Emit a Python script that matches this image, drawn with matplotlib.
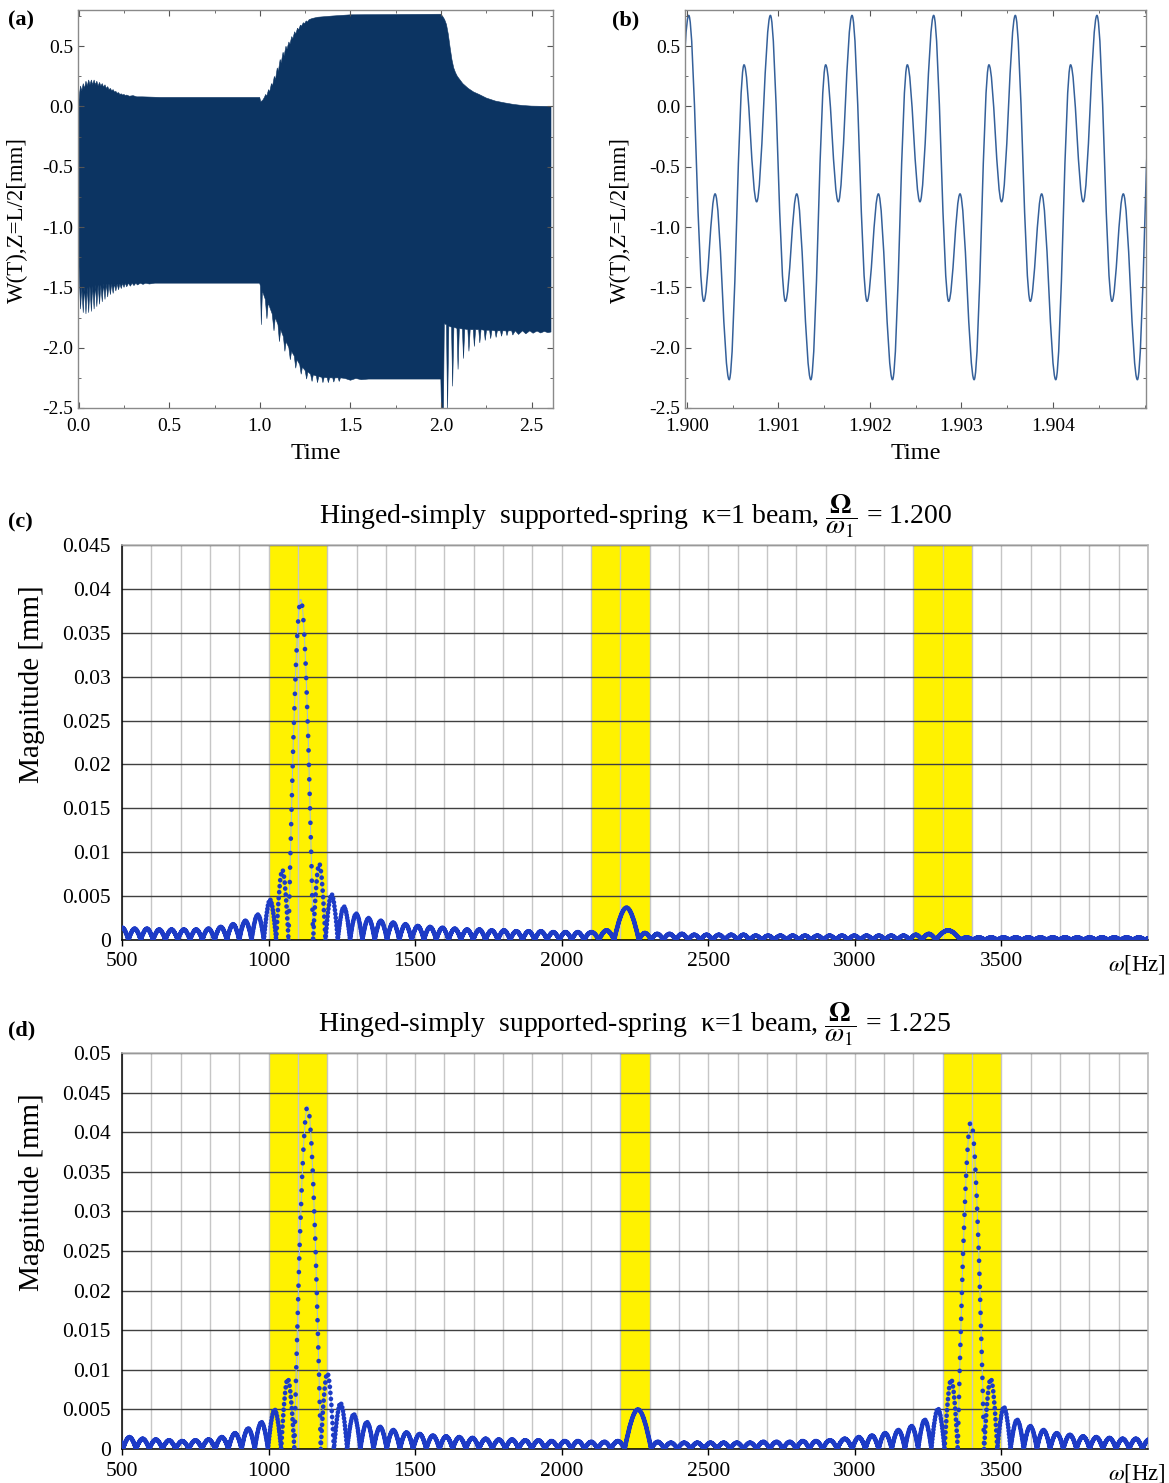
import numpy as np
import matplotlib
matplotlib.use("Agg")
import matplotlib.pyplot as plt
from matplotlib.path import Path
from matplotlib.patches import PathPatch
from matplotlib.ticker import MultipleLocator, FuncFormatter, FormatStrFormatter

plt.rcParams["font.family"] = ["Liberation Serif", "DejaVu Serif"]
plt.rcParams["mathtext.fontset"] = "stix"
plt.rcParams["axes.unicode_minus"] = False

DPI = 100

# ---------------------------------------------------------------------------
# (a) envelope of the response W(T) at Z=L/2 (time, mm)
# ---------------------------------------------------------------------------
A_UPPER = [
    (0.000, 0.03), (0.004, 0.10), (0.010, 0.17), (0.017, 0.13), (0.025, 0.19), (0.032, 0.15),
    (0.040, 0.21), (0.047, 0.17), (0.055, 0.22), (0.062, 0.18), (0.070, 0.22), (0.077, 0.18),
    (0.085, 0.22), (0.092, 0.18), (0.100, 0.21), (0.107, 0.17), (0.115, 0.20), (0.122, 0.17),
    (0.130, 0.19), (0.137, 0.16), (0.145, 0.18), (0.152, 0.15), (0.160, 0.165), (0.167, 0.14),
    (0.175, 0.15), (0.182, 0.13), (0.190, 0.14), (0.197, 0.12), (0.205, 0.125), (0.212, 0.11),
    (0.220, 0.115), (0.227, 0.10), (0.235, 0.105), (0.242, 0.095), (0.250, 0.10), (0.257, 0.09),
    (0.265, 0.095), (0.280, 0.085), (0.300, 0.09), (0.320, 0.08), (0.350, 0.08), (0.450, 0.075),
    (0.999, 0.075), (1.005, 0.04), (1.015, 0.05), (1.025, 0.075), (1.032, 0.10), (1.038, 0.085),
    (1.048, 0.14), (1.054, 0.12), (1.064, 0.19), (1.070, 0.17), (1.080, 0.25), (1.086, 0.22),
    (1.096, 0.32), (1.102, 0.29), (1.112, 0.39), (1.118, 0.36), (1.128, 0.45), (1.134, 0.42),
    (1.144, 0.50), (1.150, 0.475), (1.160, 0.535), (1.166, 0.515), (1.176, 0.58), (1.182, 0.56),
    (1.192, 0.62), (1.198, 0.60), (1.208, 0.65), (1.214, 0.635), (1.224, 0.675), (1.230, 0.665),
    (1.240, 0.695), (1.246, 0.685), (1.256, 0.71), (1.262, 0.70), (1.272, 0.72), (1.290, 0.73),
    (1.320, 0.74), (1.400, 0.75), (1.500, 0.76), (2.000, 0.765), (2.010, 0.745), (2.020, 0.72),
    (2.030, 0.68), (2.040, 0.60), (2.050, 0.49), (2.060, 0.39), (2.070, 0.32), (2.080, 0.28),
    (2.090, 0.25), (2.120, 0.19), (2.150, 0.15), (2.180, 0.12), (2.210, 0.10), (2.250, 0.07),
    (2.300, 0.045), (2.350, 0.03), (2.400, 0.017), (2.450, 0.008), (2.500, 0.003), (2.607, 0.0),
]
A_LOWER = [
    (0.000, -1.25), (0.004, -1.45), (0.010, -1.68), (0.017, -1.50), (0.025, -1.71), (0.032, -1.50),
    (0.040, -1.72), (0.047, -1.50), (0.055, -1.71), (0.062, -1.49), (0.070, -1.70), (0.077, -1.49),
    (0.085, -1.68), (0.092, -1.48), (0.100, -1.66), (0.107, -1.48), (0.115, -1.64), (0.122, -1.48),
    (0.130, -1.62), (0.137, -1.47), (0.145, -1.60), (0.152, -1.47), (0.160, -1.58), (0.167, -1.47),
    (0.175, -1.56), (0.182, -1.47), (0.190, -1.55), (0.197, -1.47), (0.205, -1.53), (0.212, -1.47),
    (0.220, -1.52), (0.227, -1.47), (0.235, -1.51), (0.242, -1.465), (0.250, -1.50), (0.257, -1.465),
    (0.265, -1.495), (0.275, -1.465), (0.285, -1.49), (0.295, -1.465), (0.305, -1.485), (0.315, -1.465),
    (0.325, -1.48), (0.340, -1.465), (0.355, -1.475), (0.370, -1.465), (0.390, -1.472), (0.420, -1.465),
    (0.999, -1.465),
    (1.003, -1.49), (1.008, -1.81), (1.014, -1.53), (1.030, -1.60), (1.039, -1.76), (1.046, -1.63),
    (1.068, -1.72), (1.078, -1.86), (1.085, -1.75), (1.100, -1.81), (1.108, -1.95), (1.115, -1.85),
    (1.130, -1.91), (1.138, -2.03), (1.145, -1.95), (1.160, -2.00), (1.168, -2.10), (1.175, -2.03),
    (1.190, -2.07), (1.198, -2.17), (1.205, -2.10), (1.220, -2.14), (1.228, -2.22), (1.235, -2.16),
    (1.250, -2.19), (1.258, -2.26), (1.265, -2.20), (1.280, -2.22), (1.288, -2.28), (1.295, -2.225),
    (1.312, -2.235), (1.318, -2.29), (1.325, -2.24), (1.342, -2.245), (1.348, -2.29), (1.355, -2.245),
    (1.372, -2.25), (1.378, -2.29), (1.385, -2.25), (1.402, -2.25), (1.408, -2.285), (1.415, -2.25),
    (1.432, -2.25), (1.438, -2.28), (1.445, -2.25), (1.470, -2.255), (1.500, -2.27), (1.530, -2.255),
    (1.560, -2.265), (1.600, -2.26), (1.999, -2.26),
    (2.003, -2.56), (2.013, -2.56), (2.018, -1.80), (2.030, -1.81), (2.036, -2.52), (2.043, -1.82),
    (2.058, -1.83), (2.064, -2.32), (2.071, -1.83), (2.088, -1.84), (2.094, -2.18), (2.101, -1.84),
    (2.118, -1.845), (2.124, -2.09), (2.131, -1.845), (2.148, -1.85), (2.154, -2.03), (2.161, -1.85),
    (2.178, -1.85), (2.184, -1.99), (2.191, -1.85), (2.208, -1.85), (2.214, -1.96), (2.221, -1.85),
    (2.238, -1.855), (2.244, -1.94), (2.251, -1.855), (2.268, -1.855), (2.274, -1.925), (2.281, -1.855),
    (2.298, -1.86), (2.304, -1.915), (2.311, -1.86), (2.328, -1.86), (2.334, -1.905), (2.341, -1.86),
    (2.358, -1.86), (2.364, -1.90), (2.371, -1.86), (2.390, -1.86), (2.396, -1.895), (2.410, -1.86),
    (2.428, -1.89), (2.450, -1.86), (2.468, -1.885), (2.490, -1.86), (2.508, -1.88), (2.530, -1.862),
    (2.550, -1.878), (2.570, -1.865), (2.590, -1.875), (2.607, -1.87),
]

# ---------------------------------------------------------------------------
# (b) zoomed window: successive extrema of W(T)
# ---------------------------------------------------------------------------
B_TIME = [
    1.899870,
    1.900020, 1.900184, 1.900308, 1.900462, 1.900624, 1.900762,
    1.900912, 1.901076, 1.901200, 1.901354, 1.901516, 1.901654,
    1.901804, 1.901968, 1.902092, 1.902246, 1.902408, 1.902546,
    1.902696, 1.902860, 1.902984, 1.903138, 1.903300, 1.903438,
    1.903588, 1.903752, 1.903876, 1.904030, 1.904192, 1.904330,
    1.904480, 1.904644, 1.904768, 1.904922, 1.905084, 1.905222,
]
B_W = [
    -0.79,
    0.755, -1.615, -0.725, -2.265, 0.345, -0.79,
    0.755, -1.615, -0.725, -2.265, 0.345, -0.79,
    0.755, -1.615, -0.725, -2.265, 0.345, -0.79,
    0.755, -1.615, -0.725, -2.265, 0.345, -0.79,
    0.755, -1.615, -0.725, -2.265, 0.345, -0.79,
    0.755, -1.615, -0.725, -2.265, 0.345, -0.79,
]
B_TICKS = [1.900, 1.901, 1.902, 1.903, 1.904]

# ---------------------------------------------------------------------------
# (c) spectrum, Omega/omega1 = 1.200: lobe edges (Hz) and lobe peak heights (mm)
# ---------------------------------------------------------------------------
C_NULLS = [
    480, 522, 564, 606, 648, 690, 732, 774, 816, 858, 900, 942, 984, 1026, 1068,
    1152, 1194, 1236, 1278, 1320, 1362, 1404, 1446, 1488, 1530, 1572, 1614, 1656, 1698,
    1740, 1782, 1824, 1866, 1908, 1950, 1992, 2034, 2076,
    2127, 2179,
    2263, 2305, 2347, 2389, 2431, 2473, 2515, 2557, 2599, 2641, 2683, 2725, 2767, 2809,
    2851, 2893, 2935, 2977, 3019, 3061, 3103, 3145, 3187, 3229,
    3276,
    3360, 3402, 3444, 3486, 3528, 3570, 3612, 3654, 3696, 3738, 3780, 3822, 3864, 3906,
    3948, 3990, 4032,
]
C_PEAKS = [
    0.0014, 0.0013, 0.0013, 0.0012, 0.0012, 0.0012, 0.0012, 0.0013, 0.0015, 0.0018,
    0.0022, 0.0029, 0.0046, 0.0080,
    0.0388,
    0.0087, 0.0052, 0.0038, 0.0030, 0.0025, 0.0022, 0.0020, 0.0018, 0.0016, 0.0015,
    0.0014, 0.0013, 0.0012, 0.0012, 0.0011, 0.0011, 0.0010, 0.0010, 0.0010, 0.0009,
    0.0009, 0.0009,
    0.0009, 0.0011,
    0.0037,
    0.0008, 0.0007, 0.0007, 0.0007, 0.0006, 0.0006, 0.0006, 0.0006, 0.0006, 0.0005,
    0.0005, 0.0005, 0.0005, 0.0005, 0.0005, 0.0005, 0.0005, 0.0005, 0.0005, 0.0005,
    0.0005, 0.0005, 0.0006,
    0.0007,
    0.0011,
    0.0003, 0.0003, 0.0003, 0.0003, 0.0003, 0.0003, 0.0003, 0.0003, 0.0003, 0.0003,
    0.0003, 0.0003, 0.0003, 0.0003, 0.0003, 0.0003,
]
C_BANDS = [(1000, 1200), (2100, 2300), (3200, 3400)]
C_RATIO = "1.200"

# ---------------------------------------------------------------------------
# (d) spectrum, Omega/omega1 = 1.225
# ---------------------------------------------------------------------------
D_NULLS = [
    458, 503, 548, 593, 638, 683, 728, 773, 818, 863, 908, 953, 998, 1043, 1088,
    1178, 1223, 1268, 1313, 1358, 1403, 1448, 1493, 1538, 1583, 1628, 1673, 1718, 1763,
    1808, 1853, 1898, 1943, 1988, 2033, 2078, 2123, 2168,
    2215,
    2305, 2350, 2395, 2440, 2485, 2530, 2575, 2620, 2665, 2710, 2755, 2800, 2845, 2890,
    2940,
    2991, 3036, 3081, 3126, 3171, 3216, 3261, 3306, 3351,
    3441, 3486, 3531, 3576, 3621, 3666, 3711, 3756, 3801, 3846, 3891, 3936, 3981, 4026,
]
D_PEAKS = [
    0.0017, 0.0015, 0.0013, 0.0012, 0.0011, 0.0010, 0.0011, 0.0012, 0.0015, 0.0020,
    0.0026, 0.0034, 0.0050, 0.0089,
    0.0433,
    0.0096, 0.0058, 0.0044, 0.0034, 0.0028, 0.0024, 0.0021, 0.0019, 0.0017, 0.0016,
    0.0015, 0.0014, 0.0013, 0.0012, 0.0012, 0.0011, 0.0011, 0.0010, 0.0010, 0.0010,
    0.0009, 0.0009,
    0.0010,
    0.0050,
    0.0009, 0.0008, 0.0008, 0.0008, 0.0008, 0.0008, 0.0008, 0.0008, 0.0009, 0.0009,
    0.0009, 0.0010, 0.0010,
    0.0011, 0.0013,
    0.0015, 0.0017, 0.0020, 0.0024, 0.0029, 0.0037, 0.0051, 0.0088,
    0.0414,
    0.0089, 0.0053, 0.0037, 0.0029, 0.0024, 0.0020, 0.0018, 0.0016, 0.0015, 0.0014,
    0.0013, 0.0013, 0.0012,
]
D_BANDS = [(1000, 1200), (2200, 2300), (3300, 3500)]
D_RATIO = "1.225"

FILL_COL = "#0c3462"
WAVE_COL = "#35609a"
DOT_COL = "#1d3bc6"
LINK_COL = "#9cb9e4"
BAND_COL = "#fff200"
DOT_LW = 3.4
HZ_PER_SAMPLE = 1.7


def px(x0, y0, x1, y1):
    """figure rect from pixel box (left, top, right, bottom)"""
    W, H = 1169, 1483
    return [x0 / W, 1 - y1 / H, (x1 - x0) / W, (y1 - y0) / H]


def smooth_path(xs, ys, c=0.3642):
    verts = [(xs[0], ys[0])]
    codes = [Path.MOVETO]
    for x0, y0, x1, y1 in zip(xs[:-1], ys[:-1], xs[1:], ys[1:]):
        dx = x1 - x0
        verts += [(x0 + c * dx, y0), (x1 - c * dx, y1), (x1, y1)]
        codes += [Path.CURVE4] * 3
    return Path(verts, codes)


def lobe_segments(f0, f1, h):
    fm = 0.5 * (f0 + f1)
    dx = fm - f0
    return [(f0 + 0.35 * dx, 0.6 * h), (fm - 0.3 * dx, h), (fm, h),
            (fm + 0.3 * dx, h), (f1 - 0.35 * dx, 0.6 * h), (f1, 0.0)]


def style_time_axes(ax, xlim, xminor, xfmt):
    ax.set_xlim(*xlim)
    ax.set_ylim(-2.5, 0.8)
    ax.xaxis.set_minor_locator(MultipleLocator(xminor))
    ax.xaxis.set_major_formatter(FormatStrFormatter(xfmt))
    ax.yaxis.set_major_locator(MultipleLocator(0.5))
    ax.yaxis.set_minor_locator(MultipleLocator(0.25))
    ax.yaxis.set_major_formatter(FormatStrFormatter("%.1f"))
    ax.tick_params(which="both", direction="in", top=True, right=True,
                   color="#555555", labelsize=14)
    ax.tick_params(which="major", length=4)
    ax.tick_params(which="minor", length=2.5)
    ax.tick_params(axis="x", pad=7)
    for s in ax.spines.values():
        s.set_color("#8a8a8a")
        s.set_linewidth(1.0)
    ax.set_xlabel("Time", fontsize=17.5)
    ax.xaxis.set_label_coords(0.5, -0.088)
    ax.set_ylabel("W(T),Z=L/2[mm]", fontsize=16.5)


def draw_spectrum(ax, nulls, peaks, bands, ymax, ratio):
    ax.set_xlim(500, 4000)
    ax.set_ylim(0, ymax)
    for lo, hi in bands:
        ax.axvspan(lo, hi, color=BAND_COL, lw=0, zorder=0.2)

    verts = [(nulls[0], 0.0)]
    codes = [Path.MOVETO]
    lobes = []
    for i, h in enumerate(peaks):
        seg = lobe_segments(nulls[i], nulls[i + 1], h)
        verts += seg
        codes += [Path.CURVE4] * 6
        lobes.append((Path([(nulls[i], 0.0)] + seg, [Path.MOVETO] + [Path.CURVE4] * 6),
                      nulls[i], nulls[i + 1], h))
    ax.add_patch(PathPatch(Path(verts, codes), fill=False, ec=LINK_COL, lw=0.7,
                           zorder=3, clip_on=True))

    # dot spacing on each lobe follows the sampling of the spectrum
    p0 = ax.transData.transform((500, 0))
    p1 = ax.transData.transform((4000, ymax))
    sx = (p1[0] - p0[0]) / 3500.0
    sy = (p1[1] - p0[1]) / ymax
    for path, f0, f1, h in lobes:
        half = 0.5 * (f1 - f0)
        flank = np.hypot(half * sx, h * sy) * 1.05
        n = max(half / HZ_PER_SAMPLE, 4)
        step_pt = max(flank / n, 0.9) * 72.0 / DPI
        gap = max(step_pt / DOT_LW - 0.01, 0.05)
        ax.add_patch(PathPatch(path, fill=False, ec=DOT_COL, lw=DOT_LW,
                               linestyle=(0, (0.01, gap)), capstyle="round",
                               zorder=4))

    ax.set_xticks(range(500, 3501, 500))
    ax.set_xticks(range(500, 4001, 100), minor=True)
    ax.set_yticks(np.arange(0, ymax + 1e-9, 0.005))
    ax.yaxis.set_major_formatter(FuncFormatter(lambda v, _: "0" if abs(v) < 1e-12 else f"{v:g}"))
    ax.set_axisbelow(True)
    ax.xaxis.grid(True, which="both", color="#c6c6c6", lw=1.0)
    ax.yaxis.grid(True, which="major", color="#404040", lw=1.0)
    ax.tick_params(axis="x", which="major", direction="out", length=4, width=1,
                   labelsize=15.5, pad=5)
    ax.tick_params(axis="x", which="minor", length=0)
    ax.tick_params(axis="y", length=0, labelsize=15.5, pad=8)
    ax.spines["left"].set_color("black")
    ax.spines["bottom"].set_color("black")
    ax.spines["top"].set_color("#b5b5b5")
    ax.spines["right"].set_color("#b5b5b5")
    for s in ax.spines.values():
        s.set_linewidth(1.1)
    ax.set_ylabel("Magnitude [mm]", fontsize=21)
    ax.yaxis.set_label_coords(-0.075, 0.648)
    ax.text(1.017, -0.062, r"$\omega$[Hz]", transform=ax.transAxes, ha="right",
            va="center", fontsize=16.5)
    ax.set_title("Hinged-simply  supported-spring  \u03ba=1 beam, "
                 r"$\dfrac{\mathbf{\Omega}}{\omega_1}$" + f" = {ratio}",
                 fontsize=20, pad=15)


fig = plt.figure(figsize=(11.69, 14.83), dpi=DPI)

# (a) full time history
ax_a = fig.add_axes(px(78, 10, 553, 408))
ta = [p[0] for p in A_UPPER] + [p[0] for p in A_LOWER][::-1]
wa = [p[1] for p in A_UPPER] + [p[1] for p in A_LOWER][::-1]
ax_a.fill(ta, wa, color=FILL_COL, lw=0.4, ec=FILL_COL)
ax_a.xaxis.set_major_locator(MultipleLocator(0.5))
style_time_axes(ax_a, (-0.004, 2.618), 0.25, "%.1f")
ax_a.yaxis.set_label_coords(-0.105, 0.472)

# (b) zoomed window
ax_b = fig.add_axes(px(685, 10, 1146, 408))
ax_b.add_patch(PathPatch(smooth_path(B_TIME, B_W), fill=False, ec=WAVE_COL, lw=1.1))
ax_b.set_xticks(B_TICKS)
style_time_axes(ax_b, (1.899979, 1.905016), 0.0005, "%.3f")
ax_b.yaxis.set_label_coords(-0.118, 0.472)

# (c), (d) spectra
ax_c = fig.add_axes(px(122, 545, 1148, 940))
draw_spectrum(ax_c, C_NULLS, C_PEAKS, C_BANDS, 0.045, C_RATIO)
ax_d = fig.add_axes(px(122, 1053, 1148, 1449))
draw_spectrum(ax_d, D_NULLS, D_PEAKS, D_BANDS, 0.05, D_RATIO)

for lab, x, y in [("(a)", 8, 20), ("(b)", 612, 20), ("(c)", 8, 522), ("(d)", 8, 1030)]:
    fig.text(x / 1169, 1 - y / 1483, lab, fontsize=16, fontweight="bold",
             ha="left", va="center")

fig.savefig("out.png", dpi=DPI)
